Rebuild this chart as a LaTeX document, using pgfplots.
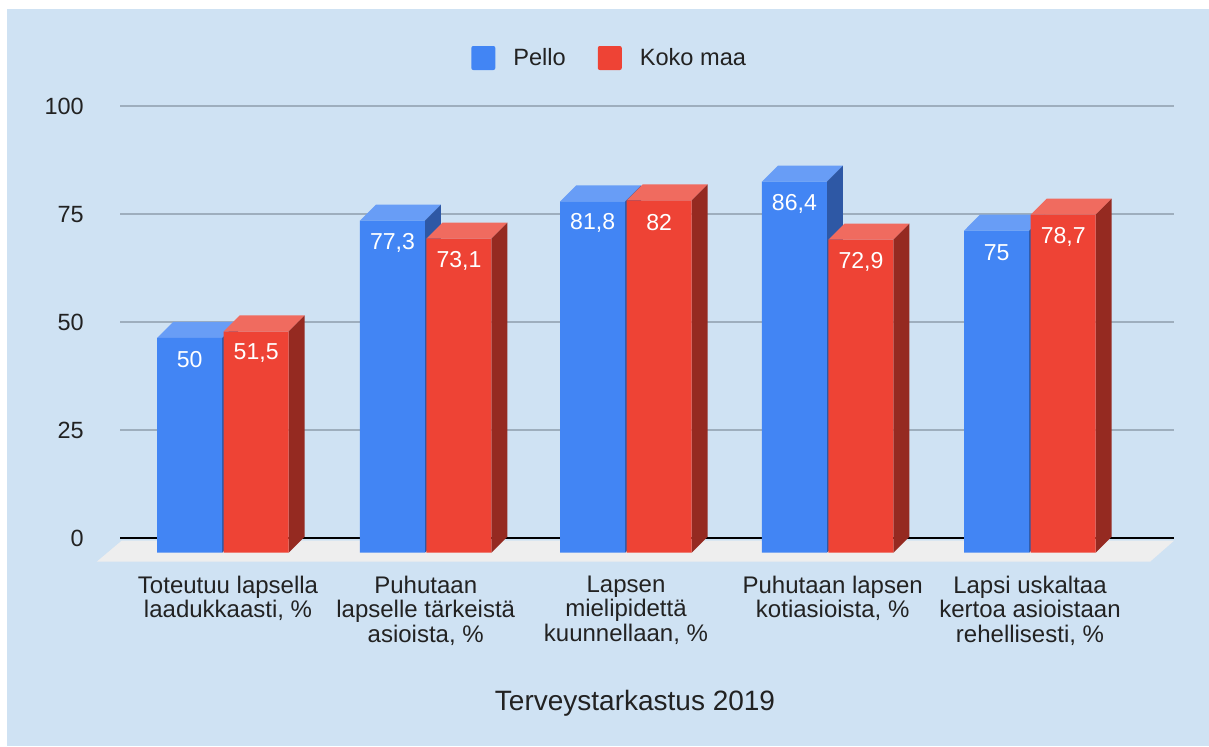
\documentclass[border=0pt]{standalone}
\usepackage{fontspec}
\setmainfont{Liberation Sans}
\usepackage{pgfplots}
\pgfplotsset{compat=1.18}
\definecolor{panel}{HTML}{CFE2F3}
\definecolor{gridc}{HTML}{9EAEBD}
\definecolor{floorc}{HTML}{EEEEEE}
\definecolor{txt}{HTML}{222222}
\definecolor{pfront}{HTML}{4285F4}
\definecolor{ptop}{HTML}{689DF6}
\definecolor{pside}{HTML}{2E58A5}
\definecolor{kfront}{HTML}{EE4335}
\definecolor{ktop}{HTML}{F06B5F}
\definecolor{kside}{HTML}{952A21}

% top and side of one bar: left edge, right edge, value, top colour, side colour
\newcommand{\barfaces}[5]{%
  \pgfmathsetmacro{\xa}{#1+0.0793}%
  \pgfmathsetmacro{\xb}{#2+0.0793}%
  \pgfmathsetmacro{\yb}{#3+3.73}%
  \addplot[fill=#4,draw=none,forget plot,nodes near coords={}] coordinates {(#1,#3) (#2,#3) (\xb,\yb) (\xa,\yb)} -- cycle;
  \addplot[fill=#5,draw=none,forget plot,nodes near coords={}] coordinates {(#2,0) (#2,#3) (\xb,\yb) (\xb,3.73)} -- cycle;
}

\begin{document}
\begin{tikzpicture}[x=0.75pt,y=0.75pt]
\path[use as bounding box] (0,0) rectangle (1209,746);
\fill[white] (0,0) rectangle (1209,746);
\fill[panel] (7,0) rectangle (1209,737);
\begin{axis}[
  at={(90pt,138.2pt)}, anchor=south west,
  scale only axis, width=790.5pt, height=341.8pt,
  clip=false,
  xmin=-0.5105, xmax=4.7138, ymin=-2.1, ymax=104,
  axis line style={draw=none}, major tick length=0pt,
  ytick={3.31,28.48,53.66,78.83,104},
  yticklabels={0,25,50,75,100},
  ymajorgrids, grid style={gridc,line width=1.5pt},
  xtick={0.025,1.005,1.9975,3.022,4},
  xticklabels={{Toteutuu lapsella\\laadukkaasti, \%},
    {Puhutaan\\lapselle tärkeistä\\asioista, \%},
    {Lapsen\\mielipidettä\\kuunnellaan, \%},
    {Puhutaan lapsen\\kotiasioista, \%},
    {Lapsi uskaltaa\\kertoa asioistaan\\rehellisesti, \%}},
  xticklabel style={align=center,anchor=north,inner sep=0pt,yshift=-10.3pt,
    font=\fontsize{18}{18.5}\selectfont,text=txt},
  yticklabel style={anchor=east,inner sep=0pt,xshift=-27pt,
    font=\fontsize{17.6}{20}\selectfont,text=txt},
  /pgf/number format/assume math mode=true,
  /pgf/number format/use comma,
  xlabel={Terveystarkastus 2019},
  x label style={at={(rel axis cs:0.4886,-0.3057)},anchor=center,inner sep=0pt,yshift=-1.5pt,
    font=\fontsize{21}{24}\selectfont,text=txt},
  legend columns=2,
  legend style={at={(rel axis cs:0.4649,1.1053)},anchor=center,draw=none,fill=none,
    font=\fontsize{17.7}{20}\selectfont,text=txt,
    /tikz/every odd column/.append style={column sep=11.5pt},
    /tikz/every even column/.append style={column sep=22pt}},
  legend image code/.code={\path[rounded corners=1.5pt,draw=none,#1] (0pt,-9pt) rectangle (18pt,9pt);},
  nodes near coords={\pgfmathprintnumber[fixed,precision=1]{\pgfplotspointmeta}},
  every node near coord/.append style={anchor=center,yshift=-16.5pt,text=white,
    font=\fontsize{17.3}{20}\selectfont},
]
% floor and zero line
\addplot[fill=floorc,draw=none,forget plot,nodes near coords={}] coordinates {(-0.626,-2.1) (-0.502,2.8) (4.7138,2.8) (4.595,-2.1)} -- cycle;
\addplot[black,line width=1.5pt,forget plot,nodes near coords={}] coordinates {(-0.5105,3.31) (4.7138,3.31)};

% Pello
\barfaces{-0.3262}{-0.004}{50}{ptop}{pside}
\barfaces{0.6788}{1.001}{77.3}{ptop}{pside}
\barfaces{1.6713}{1.9935}{81.8}{ptop}{pside}
\barfaces{2.6713}{2.9935}{86.4}{ptop}{pside}
\barfaces{3.6738}{3.996}{75}{ptop}{pside}
\addplot[ybar,bar width=48.75pt,bar shift=-24.98pt,fill=pfront,draw=none,
  every node near coord/.append style={xshift=-24.98pt}]
  coordinates {(0,50) (1.005,77.3) (1.9975,81.8) (2.9975,86.4) (4,75)};
\addlegendentry{Pello}

% Koko maa
\barfaces{0.0035}{0.3257}{51.5}{ktop}{kside}
\barfaces{1.0085}{1.3307}{73.1}{ktop}{kside}
\barfaces{2.001}{2.3232}{82}{ktop}{kside}
\barfaces{3.001}{3.3232}{72.9}{ktop}{kside}
\barfaces{4.0035}{4.3257}{78.7}{ktop}{kside}
\addplot[ybar,bar width=48.75pt,bar shift=24.9pt,fill=kfront,draw=none,
  every node near coord/.append style={xshift=24.9pt}]
  coordinates {(0,51.5) (1.005,73.1) (1.9975,82) (2.9975,72.9) (4,78.7)};
\addlegendentry{Koko maa}
\end{axis}
\end{tikzpicture}
\end{document}
